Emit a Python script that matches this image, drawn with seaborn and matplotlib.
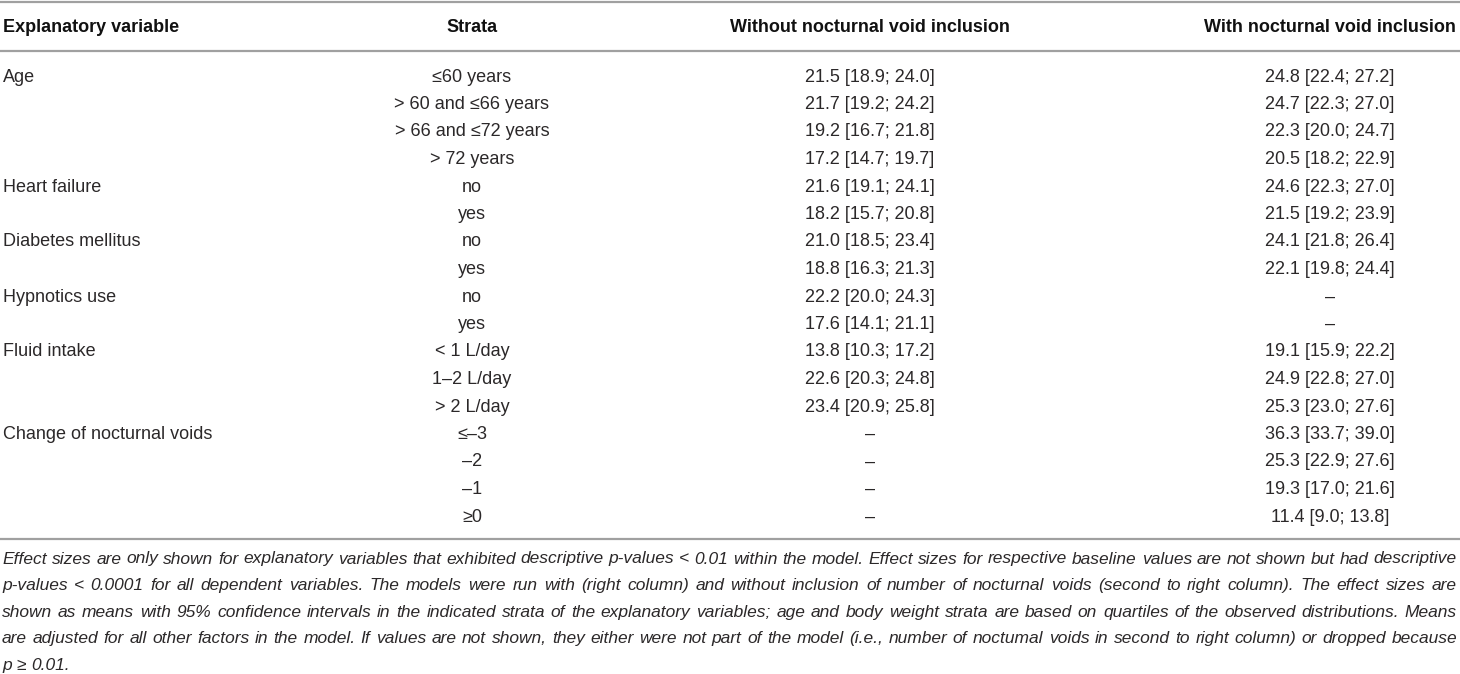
import matplotlib
matplotlib.use("Agg")
import matplotlib.pyplot as plt
import pandas as pd
import seaborn as sns

# table content
columns = ["Explanatory variable", "Strata", "Without nocturnal void inclusion", "With nocturnal void inclusion"]

variables = ["Age", "", "", "", "Heart failure", "", "Diabetes mellitus", "", "Hypnotics use", "",
             "Fluid intake", "", "", "Change of nocturnal voids", "", "", ""]

strata = ["≤60 years", "> 60 and ≤66 years", "> 66 and ≤72 years", "> 72 years",
          "no", "yes", "no", "yes", "no", "yes",
          "< 1 L/day", "1–2 L/day", "> 2 L/day",
          "≤–3", "–2", "–1", "≥0"]

without_void = ["21.5 [18.9; 24.0]", "21.7 [19.2; 24.2]", "19.2 [16.7; 21.8]", "17.2 [14.7; 19.7]",
                "21.6 [19.1; 24.1]", "18.2 [15.7; 20.8]", "21.0 [18.5; 23.4]", "18.8 [16.3; 21.3]",
                "22.2 [20.0; 24.3]", "17.6 [14.1; 21.1]",
                "13.8 [10.3; 17.2]", "22.6 [20.3; 24.8]", "23.4 [20.9; 25.8]",
                "–", "–", "–", "–"]

with_void = ["24.8 [22.4; 27.2]", "24.7 [22.3; 27.0]", "22.3 [20.0; 24.7]", "20.5 [18.2; 22.9]",
             "24.6 [22.3; 27.0]", "21.5 [19.2; 23.9]", "24.1 [21.8; 26.4]", "22.1 [19.8; 24.4]",
             "–", "–",
             "19.1 [15.9; 22.2]", "24.9 [22.8; 27.0]", "25.3 [23.0; 27.6]",
             "36.3 [33.7; 39.0]", "25.3 [22.9; 27.6]", "19.3 [17.0; 21.6]", "11.4 [9.0; 13.8]"]

footnote = [
    "Effect sizes are only shown for explanatory variables that exhibited descriptive p-values < 0.01 within the model. Effect sizes for respective baseline values are not shown but had descriptive",
    "p-values < 0.0001 for all dependent variables. The models were run with (right column) and without inclusion of number of nocturnal voids (second to right column). The effect sizes are",
    "shown as means with 95% confidence intervals in the indicated strata of the explanatory variables; age and body weight strata are based on quartiles of the observed distributions. Means",
    "are adjusted for all other factors in the model. If values are not shown, they either were not part of the model (i.e., number of noctumal voids in second to right column) or dropped because",
    "p ≥ 0.01.",
]

df = pd.DataFrame({columns[0]: variables, columns[1]: strata,
                   columns[2]: without_void, columns[3]: with_void})

sns.set_theme(style="white")
plt.rcParams["font.family"] = ["Liberation Sans", "DejaVu Sans"]

W, H = 1460, 674
fig = plt.figure(figsize=(W / 100, H / 100), dpi=100)
ax = fig.add_axes([0, 0, 1, 1])
ax.set_xlim(0, W)
ax.set_ylim(H, 0)
ax.axis("off")

txt = "#2b2829"
rule = "#a0a0a0"
fs = 13

# column anchors (x, alignment)
col_pos = [(3, "left"), (472, "center"), (870, "center"), (1330, "center")]

header_y = 27
row_y0, row_dy = 77, 27.5

for (x, ha), name in zip(col_pos, columns):
    ax.text(x, header_y, name, ha=ha, va="center", fontsize=fs, fontweight="bold", color="#111111")

for i, row in df.iterrows():
    y = row_y0 + i * row_dy
    for (x, ha), name in zip(col_pos, columns):
        ax.text(x, y, row[name], ha=ha, va="center", fontsize=fs, color=txt)

for y in [2, 51, 539]:
    ax.axhline(y, color=rule, lw=1.6)

# footnote, justified like the source
fig.canvas.draw()
r = fig.canvas.get_renderer()
foot_family = ["Liberation Sans Narrow", "Liberation Sans", "DejaVu Sans"]
longest = 0
for line in footnote:
    probe = ax.text(0, 0, line, fontsize=12, style="italic", family=foot_family)
    longest = max(longest, probe.get_window_extent(renderer=r).width)
    probe.remove()
foot_fs = 12 * 1448 / longest

foot_y0, foot_dy = 559, 26.6
for k, line in enumerate(footnote):
    y = foot_y0 + k * foot_dy
    words = line.split(" ")
    arts, widths = [], []
    for wd in words:
        t = ax.text(0, y, wd, ha="left", va="center", fontsize=foot_fs, style="italic",
                    family=foot_family, color=txt)
        arts.append(t)
        widths.append(t.get_window_extent(renderer=r).width)
    if k < len(footnote) - 1:
        gap = (1457 - 2 - sum(widths)) / (len(words) - 1)
    else:
        space = ax.text(0, 0, "a a", fontsize=foot_fs, style="italic", family=foot_family)
        sa = ax.text(0, 0, "aa", fontsize=foot_fs, style="italic", family=foot_family)
        gap = space.get_window_extent(renderer=r).width - sa.get_window_extent(renderer=r).width
        space.remove()
        sa.remove()
    x = 2
    for t, wd in zip(arts, widths):
        t.set_x(x)
        x += wd + gap

fig.savefig("out.png", dpi=100, facecolor="white")
